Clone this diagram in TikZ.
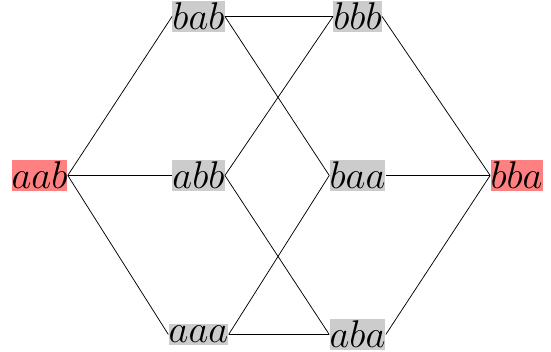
\documentclass[tikz,border=0pt]{standalone}
\usepackage{tikz}
\usetikzlibrary{positioning}

\begin{document}
\begin{tikzpicture}[
  word/.style={fill=gray!40, inner xsep=0pt, inner ysep=1pt, font=\huge},
  endword/.style={word, fill=red!50},
  edge/.style={black},
]
\useasboundingbox (-0.745,-3.33) rectangle (9.65,3.31);

\node[endword] (aab) at (0,0) {$aab$};
\node[word] (bab) at (3,3) {$bab$};
\node[word] (abb) at (3,0) {$abb$};
\node[word] (aaa) at (3,-3) {$aaa$};
\node[word] (bbb) at (6,3) {$bbb$};
\node[word] (baa) at (6,0) {$baa$};
\node[word] (aba) at (6,-3) {$aba$};
\node[endword] (bba) at (9,0) {$bba$};

% left fan
\draw[edge] (aab.east) -- (bab.west);
\draw[edge] (aab.east) -- (abb.west);
\draw[edge] (aab.east) -- (aaa.west);

% middle
\draw[edge] (bab.east) -- (bbb.west);
\draw[edge] (bab.east) -- (baa.west);
\draw[edge] (abb.east) -- (bbb.west);
\draw[edge] (abb.east) -- (aba.west);
\draw[edge] (aaa.east) -- (baa.west);
\draw[edge] (aaa.east) -- (aba.west);

% right fan
\draw[edge] (bbb.east) -- (bba.west);
\draw[edge] (baa.east) -- (bba.west);
\draw[edge] (aba.east) -- (bba.west);

\end{tikzpicture}
\end{document}
